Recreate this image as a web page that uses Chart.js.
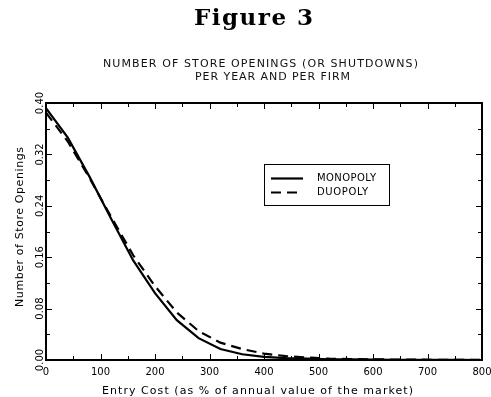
<!DOCTYPE html>
<html>
<head>
<meta charset="utf-8">
<script src="https://cdn.jsdelivr.net/npm/chart.js@4"></script>
<style>
  html, body { margin: 0; padding: 0; background: #fff; }
  canvas { display: block; }
</style>
</head>
<body>
<canvas id="fig3" width="491" height="397"></canvas>
<script>
// entry cost, % of annual value of the market
var entryCost = [0, 40, 80, 120, 160, 200, 240, 280, 320, 360, 400, 440, 480, 520, 560, 600, 640, 680, 720, 760, 800];
var monopoly = [0.392, 0.346, 0.285, 0.219, 0.155, 0.104, 0.062, 0.034, 0.017, 0.009, 0.005, 0.003, 0.002, 0.001, 0.001, 0.0005, 0.0003, 0.0002, 0.0001, 0.0001, 0];
var duopoly = [0.385, 0.340, 0.283, 0.222, 0.163, 0.115, 0.074, 0.045, 0.027, 0.017, 0.010, 0.006, 0.004, 0.002, 0.0015, 0.001, 0.0007, 0.0005, 0.0003, 0.0002, 0.0001];
var xTicks = [0, 100, 200, 300, 400, 500, 600, 700, 800];
var yTicks = [0, 0.08, 0.16, 0.24, 0.32, 0.40];

var sans = '"DejaVu Sans", sans-serif';

function pairs(ys) {
  return ys.map(function(v, i) { return {x: entryCost[i], y: v}; });
}

// draw text stretched to a given width (the original uses a wide stroke font)
function spacedText(ctx, text, x, y, width) {
  ctx.letterSpacing = '0px';
  var w = ctx.measureText(text).width;
  var sp = (width - w) / (text.length - 1);
  ctx.letterSpacing = sp + 'px';
  ctx.textAlign = 'left';
  ctx.fillText(text, x, y);
  ctx.letterSpacing = '0px';
}

var frame = {
  id: 'frame',
  afterDraw: function(chart) {
    var ctx = chart.ctx;
    var a = chart.chartArea;
    var xs = chart.scales.x, ys = chart.scales.y;
    ctx.save();
    ctx.fillStyle = '#000';
    ctx.strokeStyle = '#000';

    // titles
    ctx.font = 'bold 23px "DejaVu Serif", serif';
    ctx.textBaseline = 'alphabetic';
    spacedText(ctx, 'Figure 3', 194, 25, 119);
    ctx.font = '11px ' + sans;
    ctx.fillStyle = '#111';
    spacedText(ctx, 'NUMBER OF STORE OPENINGS (OR SHUTDOWNS)', 103, 67, 315);
    spacedText(ctx, 'PER YEAR AND PER FIRM', 195, 80, 155);
    ctx.fillStyle = '#000';

    // frame
    ctx.lineWidth = 2;
    ctx.strokeRect(a.left, a.top, a.right - a.left, a.bottom - a.top);

    // inward ticks on all four sides
    ctx.lineWidth = 1;
    ctx.beginPath();
    for (var v = 0; v <= 800; v += 50) {
      var px = Math.round(xs.getPixelForValue(v)) + 0.5;
      var len = v % 100 === 0 ? 6 : 4;
      ctx.moveTo(px, a.bottom); ctx.lineTo(px, a.bottom - len);
      ctx.moveTo(px, a.top); ctx.lineTo(px, a.top + len);
    }
    for (var k = 0; k <= 10; k++) {
      var py = Math.round(ys.getPixelForValue(k * 0.04)) + 0.5;
      var l2 = k % 2 === 0 ? 6 : 4;
      ctx.moveTo(a.left, py); ctx.lineTo(a.left + l2, py);
      ctx.moveTo(a.right, py); ctx.lineTo(a.right - l2, py);
    }
    ctx.stroke();

    // tick labels
    ctx.font = '10px ' + sans;
    ctx.textAlign = 'center';
    ctx.textBaseline = 'middle';
    xTicks.forEach(function(t) {
      ctx.fillText(String(t), xs.getPixelForValue(t), a.bottom + 12);
    });
    yTicks.forEach(function(t) {
      ctx.save();
      ctx.translate(a.left - 6, ys.getPixelForValue(t));
      ctx.rotate(-Math.PI / 2);
      ctx.fillText(t.toFixed(2), 0, 0);
      ctx.restore();
    });

    // axis titles
    ctx.font = '11px ' + sans;
    ctx.textBaseline = 'alphabetic';
    spacedText(ctx, 'Entry Cost (as % of annual value of the market)', 102, 394, 311);
    ctx.save();
    ctx.translate(23, 307);
    ctx.rotate(-Math.PI / 2);
    spacedText(ctx, 'Number of Store Openings', 0, 0, 160);
    ctx.restore();

    // legend box
    ctx.lineWidth = 1;
    ctx.strokeRect(264.5, 164.5, 125, 41);
    ctx.font = '10px ' + sans;
    ctx.textBaseline = 'middle';
    chart.data.datasets.forEach(function(ds, i) {
      var ly = 178.5 + i * 14;
      ctx.lineWidth = ds.borderWidth;
      ctx.setLineDash(ds.borderDash || []);
      ctx.beginPath();
      ctx.moveTo(271, ly); ctx.lineTo(303, ly);
      ctx.stroke();
      ctx.setLineDash([]);
      spacedText(ctx, ds.label, 317, ly, i === 0 ? 59 : 51);
    });
    ctx.restore();
  }
};

new Chart('fig3', {
  type: 'line',
  data: {
    datasets: [
      {
        label: 'MONOPOLY',
        data: pairs(monopoly),
        borderColor: '#000',
        borderWidth: 2.2,
        pointRadius: 0,
        fill: false,
        tension: 0
      },
      {
        label: 'DUOPOLY',
        data: pairs(duopoly),
        borderColor: '#000',
        borderWidth: 2.2,
        borderDash: [10, 6],
        pointRadius: 0,
        fill: false,
        tension: 0
      }
    ]
  },
  options: {
    responsive: false,
    animation: false,
    layout: { padding: { left: 46, top: 103, right: 9, bottom: 37 } },
    scales: {
      x: { type: 'linear', min: 0, max: 800, display: false },
      y: { min: 0, max: 0.4, display: false }
    },
    plugins: {
      legend: { display: false },
      tooltip: { enabled: false }
    }
  },
  plugins: [frame]
});
</script>
</body>
</html>
